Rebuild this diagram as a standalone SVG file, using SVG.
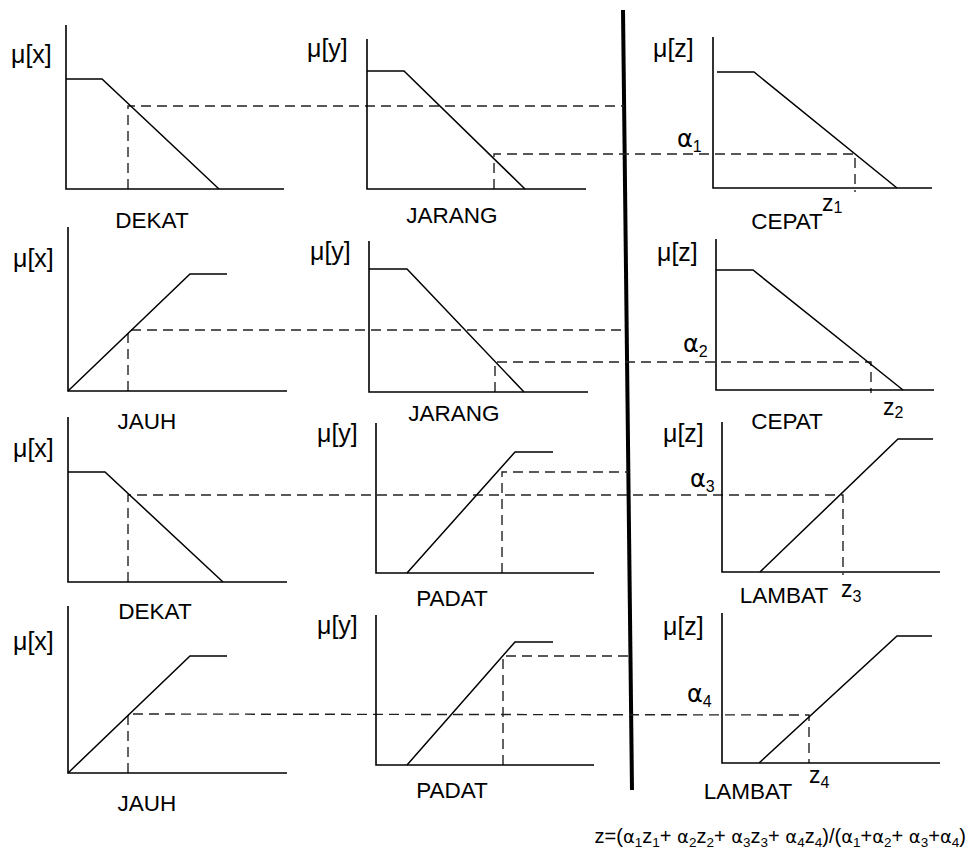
<svg xmlns="http://www.w3.org/2000/svg" width="970" height="859" viewBox="0 0 970 859">
<style>
.ax{fill:none;stroke:#000;stroke-width:1.6}
.mf{fill:none;stroke:#000;stroke-width:1.5}
.dash{fill:none;stroke:#222;stroke-width:1.4;stroke-dasharray:10 6}
.div{stroke:#000;stroke-width:4;fill:none}
text{font-family:"Liberation Sans",Arial,sans-serif;fill:#000}
.mu{font-size:25px}
.lb{font-size:22.5px;text-anchor:middle}
.al{font-size:23px}
.ga{font-family:"DejaVu Sans",sans-serif;font-size:24px}
.sb{font-size:16px}
.fm{font-size:20px}
.fg{font-family:"DejaVu Sans",sans-serif;font-size:18px}
.fs{font-size:13.5px}
</style>
<rect width="970" height="859" fill="#fff"/>

<g id="divider"><line class="div" x1="623" y1="10" x2="632" y2="790"/></g>

<g id="connectors">
<polyline class="dash" points="128,189 128,106 624,106"/>
<polyline class="dash" points="494,189 494,154 855,154 855,192"/>
<polyline class="dash" points="128,391 128,330 625,330"/>
<polyline class="dash" points="495,392 495,362 871,362 871,393"/>
<polyline class="dash" points="128,582 128,495 843,495 843,575"/>
<polyline class="dash" points="502,573 502,472 628,472"/>
<polyline class="dash" points="128,773 128,714 809,715 809,763"/>
<polyline class="dash" points="503,765 503,656 630,656"/>
</g>

<g id="r1x">
<polyline class="ax" points="66,25 66,189 284,189"/>
<polyline class="mf" points="66,79 102,79 219,189"/>
<text class="mu" x="11" y="63">μ[x]</text>
<text class="lb" x="152" y="228">DEKAT</text>
</g>
<g id="r1y">
<polyline class="ax" points="367,39 367,189 586,189"/>
<polyline class="mf" points="367,71 404,71 525,189"/>
<text class="mu" x="307" y="57">μ[y]</text>
<text class="lb" x="452" y="223">JARANG</text>
</g>
<g id="r1z">
<polyline class="ax" points="713,37 713,188 932,188"/>
<polyline class="mf" points="717,72 754,72 897,188"/>
<text class="mu" x="653" y="57">μ[z]</text>
<text class="lb" x="787" y="229">CEPAT</text>
<text class="al" x="677" y="147"><tspan class="ga">α</tspan><tspan class="sb" dy="5">1</tspan></text>
<text class="al" x="822" y="211">z<tspan class="sb" dy="2">1</tspan></text>
</g>

<g id="r2x">
<polyline class="ax" points="68,227 68,391 287,391"/>
<polyline class="mf" points="68,391 190,274 227,274"/>
<text class="mu" x="13" y="267">μ[x]</text>
<text class="lb" x="147" y="429">JAUH</text>
</g>
<g id="r2y">
<polyline class="ax" points="369,241 369,392 588,392"/>
<polyline class="mf" points="369,269 407,269 524,392"/>
<text class="mu" x="310" y="260">μ[y]</text>
<text class="lb" x="454" y="421">JARANG</text>
</g>
<g id="r2z">
<polyline class="ax" points="716,239 716,390 934,390"/>
<polyline class="mf" points="716,270 753,270 903,390"/>
<text class="mu" x="657" y="261">μ[z]</text>
<text class="lb" x="787" y="429">CEPAT</text>
<text class="al" x="683" y="352"><tspan class="ga">α</tspan><tspan class="sb" dy="5">2</tspan></text>
<text class="al" x="883" y="415">z<tspan class="sb" dy="3">2</tspan></text>
</g>

<g id="r3x">
<polyline class="ax" points="68,417 68,582 287,582"/>
<polyline class="mf" points="68,472 105,472 223,582"/>
<text class="mu" x="13" y="457">μ[x]</text>
<text class="lb" x="155" y="619">DEKAT</text>
</g>
<g id="r3y">
<polyline class="ax" points="376,423 376,573 594,573"/>
<polyline class="mf" points="407,573 515,452 553,452"/>
<text class="mu" x="317" y="442">μ[y]</text>
<text class="lb" x="452" y="606">PADAT</text>
</g>
<g id="r3z">
<polyline class="ax" points="722,422 722,572 940,572"/>
<polyline class="mf" points="760,572 898,439 933,439"/>
<text class="mu" x="663" y="442">μ[z]</text>
<text class="lb" x="784" y="603">LAMBAT</text>
<text class="al" x="690" y="487"><tspan class="ga">α</tspan><tspan class="sb" dy="5">3</tspan></text>
<text class="al" x="841" y="597">z<tspan class="sb" dy="5">3</tspan></text>
</g>

<g id="r4x">
<polyline class="ax" points="68,606 68,773 287,773"/>
<polyline class="mf" points="68,773 190,656 227,656"/>
<text class="mu" x="13" y="650">μ[x]</text>
<text class="lb" x="147" y="811">JAUH</text>
</g>
<g id="r4y">
<polyline class="ax" points="376,615 376,765 594,765"/>
<polyline class="mf" points="407,765 515,642 553,642"/>
<text class="mu" x="317" y="634">μ[y]</text>
<text class="lb" x="452" y="798">PADAT</text>
</g>
<g id="r4z">
<polyline class="ax" points="722,613 722,763 940,763"/>
<polyline class="mf" points="759,763 897,636 932,636"/>
<text class="mu" x="663" y="635">μ[z]</text>
<text class="lb" x="748" y="799">LAMBAT</text>
<text class="al" x="687" y="702"><tspan class="ga">α</tspan><tspan class="sb" dy="5">4</tspan></text>
<text class="al" x="809" y="783">z<tspan class="sb" dy="5">4</tspan></text>
</g>

<g id="formula">
<text class="fm" x="966" y="843" text-anchor="end">z=(<tspan class="fg">α</tspan><tspan class="fs" dy="4">1</tspan><tspan dy="-4">z</tspan><tspan class="fs" dy="4">1</tspan><tspan dy="-4">+ </tspan><tspan class="fg">α</tspan><tspan class="fs" dy="4">2</tspan><tspan dy="-4">z</tspan><tspan class="fs" dy="4">2</tspan><tspan dy="-4">+ </tspan><tspan class="fg">α</tspan><tspan class="fs" dy="4">3</tspan><tspan dy="-4">z</tspan><tspan class="fs" dy="4">3</tspan><tspan dy="-4">+ </tspan><tspan class="fg">α</tspan><tspan class="fs" dy="4">4</tspan><tspan dy="-4">z</tspan><tspan class="fs" dy="4">4</tspan><tspan dy="-4">)/(</tspan><tspan class="fg">α</tspan><tspan class="fs" dy="4">1</tspan><tspan dy="-4">+</tspan><tspan class="fg">α</tspan><tspan class="fs" dy="4">2</tspan><tspan dy="-4">+ </tspan><tspan class="fg">α</tspan><tspan class="fs" dy="4">3</tspan><tspan dy="-4">+</tspan><tspan class="fg">α</tspan><tspan class="fs" dy="4">4</tspan><tspan dy="-4">)</tspan></text>
</g>
</svg>
